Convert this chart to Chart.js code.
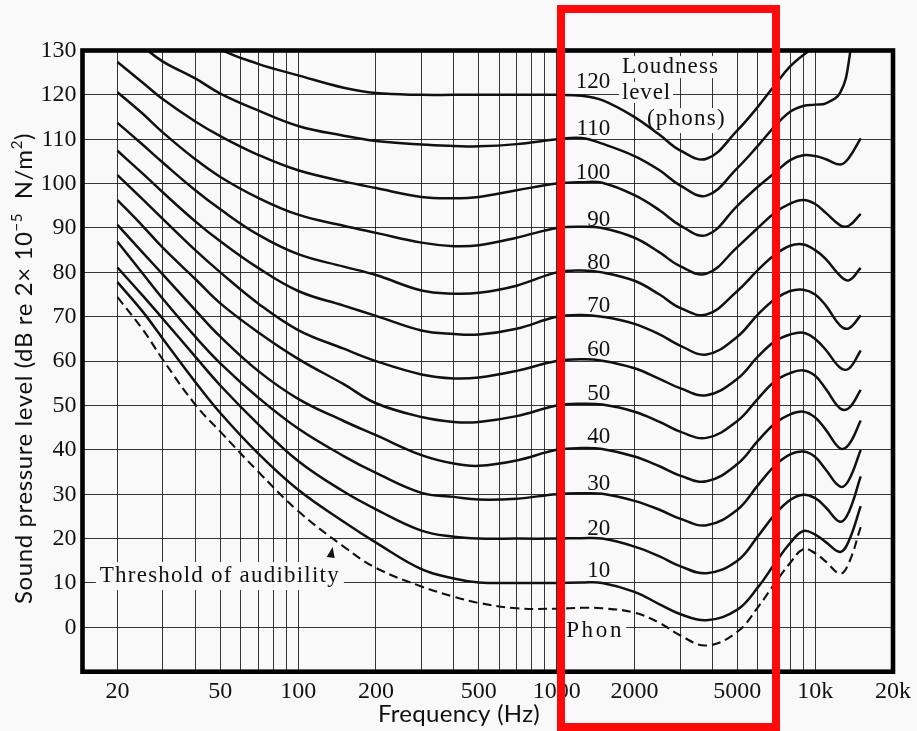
<!DOCTYPE html>
<html>
<head>
<meta charset="utf-8">
<title>Equal-loudness contours</title>
<script src="https://cdn.jsdelivr.net/npm/chart.js@4/dist/chart.umd.min.js"></script>
<style>
  html, body { margin: 0; padding: 0; background: #f8f9f8; }
  #wrap { position: relative; width: 917px; height: 731px; overflow: hidden; }
  #highlight {
    position: absolute; left: 557px; top: 5px; width: 223px; height: 726px;
    border: 8px solid #ff0a0a; box-sizing: border-box; pointer-events: none;
  }
</style>
</head>
<body>
<div id="wrap">
  <canvas id="chart" width="917" height="731"></canvas>
  <div id="highlight"></div>
</div>
<script>
const freqs = [20, 25, 30, 40, 50, 70, 100, 150, 200, 300, 400, 500, 700, 1000,
  1250, 1500, 2000, 2500, 3000, 3800, 5000, 6000, 7000, 8000, 9000, 10000, 11000, 12500, 13500, 15000];

// Sound pressure level (dB) of each contour at those frequencies
const thresholdDb = [74.4, 67.2, 60.3, 50.2, 44.1, 35.1, 26.2, 18.2, 13.4, 9.2, 6.9, 5.5, 4.3, 4.2,
  4.4, 4.3, 3.3, 1.0, -1.8, -4.1, -1.0, 4.5, 10.0, 14.5, 17.6, 16.7, 14.8, 12.1, 14.5, 22.6];
const phon10 = [77.8, 71.2, 65.0, 55.3, 48.3, 39.2, 31.0, 23.8, 19.1, 13.1, 11.0, 10.1, 10.0, 10.0,
  10.1, 10.0, 8.0, 5.2, 3.0, 1.6, 4.0, 9.0, 14.5, 19.0, 21.7, 20.9, 19.2, 17.0, 19.5, 27.3];
const phon20 = [81.1, 74.8, 69.5, 61.0, 54.5, 45.8, 37.5, 30.6, 26.6, 21.8, 20.4, 20.0, 20.0, 20.0,
  20.1, 20.0, 18.2, 16.0, 13.8, 12.2, 15.0, 20.5, 25.5, 28.7, 29.9, 29.1, 27.0, 23.8, 26.0, 34.0];
const phon30 = [86.9, 79.8, 74.0, 65.5, 59.5, 51.8, 44.8, 38.6, 34.8, 30.3, 29.4, 28.8, 29.0, 30.0,
  30.2, 30.1, 28.5, 26.5, 24.5, 23.0, 26.5, 32.0, 36.5, 39.0, 39.6, 38.4, 35.5, 31.7, 33.2, 40.0];
const phon40 = [90.7, 84.5, 79.5, 71.5, 65.5, 57.8, 51.5, 46.5, 43.3, 38.8, 36.9, 36.4, 37.6, 40.0,
  40.4, 40.2, 38.5, 36.3, 34.2, 32.9, 36.8, 42.0, 46.0, 48.0, 48.6, 47.3, 44.5, 40.3, 41.2, 46.6];
const phon50 = [96.3, 90.5, 85.5, 78.5, 73.0, 66.5, 60.5, 54.8, 50.5, 47.4, 46.3, 46.3, 47.6, 50.0,
  50.4, 50.2, 48.6, 46.3, 44.1, 42.7, 46.5, 51.5, 55.5, 57.3, 57.9, 56.7, 53.7, 49.3, 49.4, 53.5];
const phon60 = [101.9, 96.5, 92.0, 85.0, 80.0, 73.0, 67.0, 62.8, 60.0, 57.0, 56.1, 56.3, 57.8, 60.0,
  60.4, 60.1, 58.4, 56.0, 53.9, 52.3, 56.0, 61.0, 64.5, 66.0, 66.4, 65.0, 62.5, 58.5, 58.3, 62.4];
const phon70 = [107.4, 102.3, 98.0, 91.5, 87.0, 81.0, 75.8, 72.5, 70.2, 66.9, 66.1, 66.0, 67.3, 70.0,
  70.4, 70.0, 68.4, 66.0, 63.5, 61.5, 65.5, 70.5, 74.0, 75.8, 76.1, 75.0, 72.5, 68.0, 67.4, 70.3];
const phon80 = [113.7, 108.8, 104.7, 98.5, 94.2, 88.5, 84.1, 81.3, 79.4, 75.9, 75.2, 75.4, 77.0, 80.0,
  80.4, 80.0, 78.1, 75.0, 72.0, 70.5, 75.8, 80.5, 84.0, 86.0, 86.3, 85.0, 83.0, 79.2, 78.2, 81.0];
const phon90 = [120.6, 115.8, 111.5, 105.5, 101.5, 96.8, 93.0, 90.5, 88.9, 86.7, 85.9, 86.1, 87.8, 90.0,
  90.3, 90.0, 87.8, 84.5, 81.4, 79.7, 85.7, 90.0, 93.5, 95.5, 96.3, 95.4, 93.4, 90.6, 90.5, 93.2];
const phon100 = [127.4, 122.8, 119.0, 114.0, 110.7, 106.5, 103.0, 100.5, 99.0, 97.0, 96.7, 97.0, 98.5, 100.0,
  100.3, 100.2, 97.4, 94.0, 90.6, 88.4, 95.0, 99.3, 102.5, 105.3, 106.4, 106.2, 105.5, 104.3, 105.8, 110.2];
const phon110 = [136.0, 131.0, 127.5, 123.7, 120.3, 116.5, 113.0, 110.8, 109.6, 108.8, 108.5, 108.4, 108.9, 110.0,
  110.3, 109.0, 106.2, 103.0, 99.6, 97.3, 103.5, 108.5, 113.0, 116.2, 117.5, 117.8, 118.1, 120.5, 127.6, 150.0];
const phon120 = [null, null, null, 134.5, 130.3, 127.0, 124.4, 121.6, 120.4, 120.0, 120.0, 120.0, 120.0, 120.0,
  119.8, 118.8, 115.0, 111.0, 107.5, 105.6, 112.0, 117.3, 122.3, 126.4, 129.0, 130.8, 133.0, null, null, null];

// Axis grid and tick labels
const gridFreqs = [20, 30, 40, 50, 60, 70, 80, 90, 100, 200, 300, 400, 500, 600, 700, 800, 900,
  1000, 2000, 3000, 4000, 5000, 6000, 7000, 8000, 9000, 10000, 20000];
const freqTickLabels = { 20: '20', 50: '50', 100: '100', 200: '200', 500: '500', 1000: '1000',
  2000: '2000', 5000: '5000', 10000: '10k', 20000: '20k' };
const contourNames = ['120', '110', '100', '90', '80', '70', '60', '50', '40', '30', '20', '10'];
const contourNameDb = [122.8, 112.4, 102.5, 91.9, 82.2, 72.5, 62.6, 52.6, 42.8, 32.3, 22.2, 12.6];

const PAGE_BG = '#f8f9f8';
const INK = '#111';
const SERIF = "'Liberation Serif', 'Times New Roman', serif";
const SANS = "Lato, 'Open Sans', sans-serif";

const curves = [
  { label: 'Threshold of audibility', values: thresholdDb, dashed: true },
  { label: '10 phon', values: phon10 },
  { label: '20 phon', values: phon20 },
  { label: '30 phon', values: phon30 },
  { label: '40 phon', values: phon40 },
  { label: '50 phon', values: phon50 },
  { label: '60 phon', values: phon60 },
  { label: '70 phon', values: phon70 },
  { label: '80 phon', values: phon80 },
  { label: '90 phon', values: phon90 },
  { label: '100 phon', values: phon100 },
  { label: '110 phon', values: phon110 },
  { label: '120 phon', values: phon120 },
];

const datasets = curves.map(c => ({
  label: c.label,
  data: freqs.map((f, i) => ({ x: f, y: c.values[i] })).filter(p => p.y !== null),
  borderColor: INK,
  borderWidth: c.dashed ? 2.1 : 2.5,
  borderDash: c.dashed ? [9, 5] : [],
  pointRadius: 0,
  fill: false,
  tension: 0.4,
}));

// draw text stretched/condensed to a given width via letter spacing
function fitText(ctx, text, x, y, width) {
  ctx.letterSpacing = '0px';
  const natural = ctx.measureText(text).width;
  ctx.letterSpacing = ((width - natural) / text.length) + 'px';
  ctx.fillText(text, x, y);
  ctx.letterSpacing = '0px';
}

function drawRuns(ctx, runs, cx, baseY, width, size, family) {
  const mainFont = size + 'px ' + family;
  const supFont = Math.round(size * 0.62) + 'px ' + family;
  ctx.letterSpacing = '0px';
  let natural = 0, count = 0;
  runs.forEach(([t, sup]) => {
    ctx.font = sup ? supFont : mainFont;
    natural += ctx.measureText(t).width;
    count += t.length;
  });
  ctx.letterSpacing = ((width - natural) / count) + 'px';
  let x = cx - width / 2;
  runs.forEach(([t, sup]) => {
    ctx.font = sup ? supFont : mainFont;
    ctx.fillText(t, x, sup ? baseY - size * 0.42 : baseY);
    x += ctx.measureText(t).width;
  });
  ctx.letterSpacing = '0px';
}

const annotations = {
  id: 'annotations',
  beforeDatasetsDraw(chart) {
    const { ctx, scales: { x, y } } = chart;
    ctx.save();
    ctx.fillStyle = PAGE_BG;
    // paper showing through behind the printed words
    const tx = x.getPixelForValue(17.1), ty = y.getPixelForValue(10.2);
    ctx.fillRect(tx - 4, ty - 20, 248, 28);
    const px = x.getPixelForValue(1088), py = y.getPixelForValue(-0.4);
    ctx.fillRect(px - 2, py - 12, 62, 25);
    const lx = x.getPixelForValue(1790);
    ctx.fillRect(lx - 3, y.getPixelForValue(124.9) - 17, 102, 22);
    ctx.fillRect(lx - 3, y.getPixelForValue(119.1) - 17, 54, 21);
    ctx.fillRect(x.getPixelForValue(2235) - 3, y.getPixelForValue(113.2) - 17, 85, 25);
    ctx.restore();
  },
  afterDatasetsDraw(chart) {
    const { ctx, chartArea: a } = chart;
    ctx.save();
    ctx.strokeStyle = '#000';
    ctx.lineWidth = 4.6;
    ctx.lineJoin = 'miter';
    ctx.strokeRect(a.left, a.top, a.right - a.left, a.bottom - a.top);
    ctx.restore();
  },
  afterDraw(chart) {
    const { ctx, scales: { x, y } } = chart;
    ctx.save();
    ctx.fillStyle = INK;

    // contour names, right aligned
    ctx.font = '23px ' + SERIF;
    ctx.textAlign = 'right';
    ctx.textBaseline = 'middle';
    const nx = x.getPixelForValue(1610);
    contourNames.forEach((t, i) => ctx.fillText(t, nx, y.getPixelForValue(contourNameDb[i])));

    ctx.textAlign = 'left';
    ctx.textBaseline = 'alphabetic';
    ctx.font = '23px ' + SERIF;
    fitText(ctx, 'Phon', x.getPixelForValue(1088), y.getPixelForValue(-0.4) + 8, 58);
    fitText(ctx, 'Loudness', x.getPixelForValue(1790), y.getPixelForValue(124.9), 97);
    fitText(ctx, 'level', x.getPixelForValue(1790), y.getPixelForValue(119.1), 49);
    fitText(ctx, '(phons)', x.getPixelForValue(2235), y.getPixelForValue(113.2), 79);
    fitText(ctx, 'Threshold of audibility', x.getPixelForValue(17.1), y.getPixelForValue(10.2), 240);

    // arrowhead pointing at the threshold curve
    const ax = x.getPixelForValue(136), ay = y.getPixelForValue(18.1);
    ctx.beginPath();
    ctx.moveTo(ax, ay);
    ctx.lineTo(ax - 6, ay + 10);
    ctx.lineTo(ax + 2, ay + 11);
    ctx.closePath();
    ctx.fill();

    // axis titles
    ctx.font = '24px ' + SANS;
    ctx.textAlign = 'left';
    fitText(ctx, 'Frequency (Hz)', 459 - 81, 722, 162);

    ctx.translate(32, 368.5);
    ctx.rotate(-Math.PI / 2);
    drawRuns(ctx, [
      ['Sound pressure level (dB re 2\u00d7 10', false],
      ['\u22125', true],
      ['  N/m', false],
      ['2', true],
      [')', false],
    ], 0, 0, 471, 24, SANS);
    ctx.restore();
  },
};

new Chart(document.getElementById('chart'), {
  type: 'line',
  data: { datasets },
  options: {
    responsive: false,
    animation: false,
    layout: { padding: { top: 50.5, right: 22, bottom: 0, left: 0 } },
    plugins: { legend: { display: false }, tooltip: { enabled: false } },
    elements: { line: { capBezierPoints: false } },
    scales: {
      x: {
        type: 'logarithmic',
        min: 14.65,
        max: 20000,
        afterBuildTicks: (scale) => { scale.ticks = gridFreqs.map(v => ({ value: v })); },
        afterFit: (scale) => { scale.height = 59.3; },
        grid: { color: 'rgba(20,20,20,0.85)', lineWidth: 1, drawTicks: false },
        border: { display: false },
        ticks: {
          autoSkip: false,
          maxRotation: 0,
          padding: 6,
          color: INK,
          font: { family: SERIF, size: 24 },
          callback: (v) => freqTickLabels[v] || '',
        },
      },
      y: {
        min: -10,
        max: 130,
        afterFit: (scale) => { scale.width = 82.5; },
        grid: { color: 'rgba(20,20,20,0.85)', lineWidth: 1, drawTicks: false },
        border: { display: false },
        ticks: {
          stepSize: 10,
          padding: 6,
          color: INK,
          font: { family: SERIF, size: 24 },
          callback: (v) => (v < 0 ? '' : String(v)),
        },
      },
    },
  },
  plugins: [annotations],
});
</script>
</body>
</html>
